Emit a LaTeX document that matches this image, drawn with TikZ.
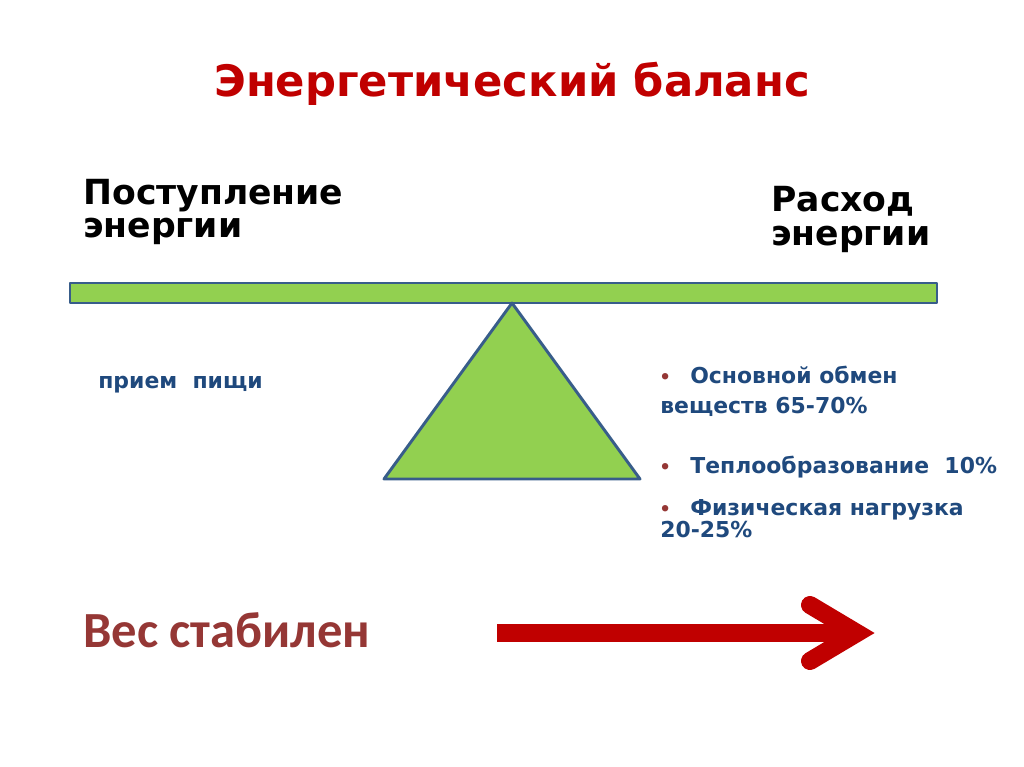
\documentclass[tikz,border=0pt]{standalone}
\usepackage{fontspec}
\setmainfont{DejaVu Sans}
\newfontfamily\calibrifont{Carlito}
\usepackage{tikz}
\usetikzlibrary{positioning}
\usepackage{xcolor}
\definecolor{titlered}{RGB}{192,0,0}
\definecolor{weightred}{RGB}{149,55,53}
\definecolor{listblue}{RGB}{31,73,125}
\definecolor{scalegreen}{RGB}{146,208,80}
\definecolor{scaleedge}{RGB}{56,93,138}

\begin{document}
\begin{tikzpicture}[x=0.025cm, y=-0.025cm,
    txt/.style={anchor=base west, inner sep=0pt},
    head/.style={txt, font=\bfseries\fontsize{24.6}{24}\selectfont},
    item/.style={txt, text=listblue, font=\bfseries\fontsize{15.6}{16}\selectfont},
    dot/.style={txt, text=weightred, font=\bfseries\fontsize{13}{13}\selectfont},
    part/.style={fill=scalegreen, draw=scaleedge, line width=2.1pt, line join=round}]
        \useasboundingbox (0,0) rectangle (1024,767);
        % title
        \node[anchor=base, inner sep=0pt, text=titlered, font=\bfseries\fontsize{30.8}{31}\selectfont] (title) at (512,97) {Энергетический баланс};
        % headings over the beam
        \node[head] (inA) at (83,205) {Поступление};
        \node[head] (inB) at (83,237) {энергии};
        \node[head] (outA) at (771,212) {Расход};
        \node[head] (outB) at (771,245) {энергии};
        % the scale
        \draw[part] (70,283) rectangle (937,303);
        \draw[part] (512,303) -- (640,479) -- (384,479) -- cycle;
        % left side
        \node[item] (food) at (98,388) {прием\ \ пищи};
        % right side
        \node[dot] (d1) at (659,383) {•};
        \node[item] (basal) at (690,383) {Основной обмен};
        \node[item] (basalB) at (660,413) {веществ 65-70\%};
        \node[dot] (d2) at (659,473) {•};
        \node[item] (heat) at (690,473) {Теплообразование\ \ 10\%};
        \node[dot] (d3) at (659,515) {•};
        \node[item] (work) at (690,515) {Физическая нагрузка};
        \node[item] (workB) at (660,537) {20-25\%};
        % bottom
        \node[txt, text=weightred, font=\calibrifont\bfseries\fontsize{36}{36}\selectfont] (stable) at (83,647) {Вес стабилен};
        \coordinate (tail) at (497,633);
        \coordinate (tip) at (857,633);
        \coordinate (armup) at (810,605);
        \coordinate (armdown) at (810,661);
        \draw[titlered, line width=12.8pt] (tail) -- (tip);
        \draw[titlered, line width=12.8pt, line cap=round, miter limit=10] (armup) -- (tip) -- (armdown);
    \end{tikzpicture}
\end{document}
